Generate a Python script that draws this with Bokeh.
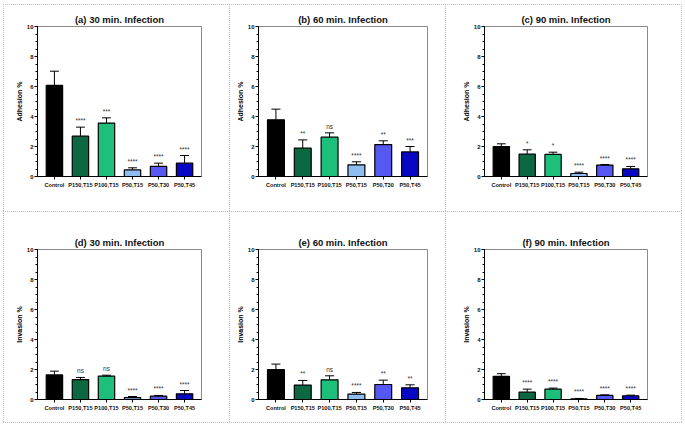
from bokeh.plotting import figure
from bokeh.layouts import gridplot
from bokeh.models import ColumnDataSource, FixedTicker, Range1d
from bokeh.core.properties import value
from bokeh.embed import file_html
from bokeh.resources import INLINE

categories = ["Control", "P150,T15", "P100,T15", "P50,T15", "P50,T30", "P50,T45"]
bar_colors = ["#000000", "#0b6840", "#1dbf7b", "#8fbdf2", "#5757f2", "#0707c4"]

# Adhesion % (mean, error)
adh30 = [6.07, 2.69, 3.56, 0.44, 0.67, 0.89]
adh30_err = [0.95, 0.60, 0.35, 0.14, 0.22, 0.51]
adh60 = [3.78, 1.89, 2.62, 0.78, 2.13, 1.64]
adh60_err = [0.71, 0.55, 0.29, 0.20, 0.25, 0.36]
adh90 = [2.00, 1.49, 1.47, 0.20, 0.76, 0.51]
adh90_err = [0.18, 0.29, 0.15, 0.09, 0.04, 0.16]

# Invasion % (mean, error)
inv30 = [1.64, 1.33, 1.56, 0.13, 0.22, 0.38]
inv30_err = [0.25, 0.14, 0.06, 0.07, 0.05, 0.22]
inv60 = [2.00, 0.96, 1.31, 0.36, 1.00, 0.78]
inv60_err = [0.36, 0.31, 0.27, 0.11, 0.29, 0.20]
inv90 = [1.54, 0.49, 0.69, 0.04, 0.27, 0.25]
inv90_err = [0.18, 0.20, 0.07, 0.03, 0.04, 0.04]

sig_a = ["", "****", "***", "****", "****", "****"]
sig_b = ["", "**", "ns", "****", "**", "***"]
sig_c = ["", "*", "*", "****", "****", "****"]
sig_d = ["", "ns", "ns", "****", "****", "****"]
sig_e = ["", "**", "ns", "****", "**", "**"]
sig_f = ["", "****", "****", "****", "****", "****"]

y_ticks = [0, 2, 4, 6, 8, 10]

FONT = "Liberation Sans"
DOT = "#bdbdbd"


def vline(x, y0, y1):
    return ("repeating-linear-gradient(to bottom, %s 0px, %s 1px, transparent 1px, transparent 2px)" % (DOT, DOT),
            "1px %dpx" % (y1 - y0), "%dpx %dpx" % (x, y0))


def hline(y, x0, x1):
    return ("repeating-linear-gradient(to right, %s 0px, %s 1px, transparent 1px, transparent 2px)" % (DOT, DOT),
            "%dpx 1px" % (x1 - x0), "%dpx %dpx" % (x0, y))


def css_lines(lines):
    return {
        "background-image": ", ".join(l[0] for l in lines),
        "background-size": ", ".join(l[1] for l in lines),
        "background-position": ", ".join(l[2] for l in lines),
        "background-repeat": "no-repeat",
        "background-color": "white",
    }


panels = [
    ("(a) 30 min. Infection", "Adhesion %", adh30, adh30_err, sig_a, 229, 211, (37, 26, 26, 35),
     [vline(3, 4, 211), hline(4, 3, 229)]),
    ("(b) 60 min. Infection", "Adhesion %", adh60, adh60_err, sig_b, 216, 211, (29, 18, 26, 35),
     [vline(0, 4, 211), hline(4, 0, 216)]),
    ("(c) 90 min. Infection", "Adhesion %", adh90, adh90_err, sig_c, 240, 211, (39, 38, 26, 35),
     [vline(0, 4, 211), vline(236, 4, 211), hline(4, 0, 237)]),
    ("(d) 30 min. Infection", "Invasion %", inv30, inv30_err, sig_d, 229, 216, (37, 28, 38, 28),
     [vline(3, 0, 211), hline(0, 3, 229), hline(211, 3, 229)]),
    ("(e) 60 min. Infection", "Invasion %", inv60, inv60_err, sig_e, 216, 216, (29, 18, 38, 28),
     [vline(0, 0, 211), hline(0, 0, 216), hline(211, 0, 216)]),
    ("(f) 90 min. Infection", "Invasion %", inv90, inv90_err, sig_f, 240, 216, (34, 38, 38, 28),
     [vline(0, 0, 211), vline(236, 0, 212), hline(0, 0, 237), hline(211, 0, 237)]),
]

figs = []
for title, ylab, vals, errs, sig, w, h, (bl, br, bt, bb), lines in panels:
    xs = list(range(len(categories)))
    hi = [v + e for v, e in zip(vals, errs)]
    src = ColumnDataSource(dict(
        x=xs, top=vals, hi=hi,
        xl=[x - 0.17 for x in xs], xr=[x + 0.17 for x in xs],
        barfill=bar_colors, sig=sig,
    ))
    p = figure(width=w, height=h, x_range=Range1d(-0.65, 5.65), y_range=Range1d(0, 10),
               output_backend="svg", toolbar_location=None,
               min_border_left=bl, min_border_right=br, min_border_top=bt, min_border_bottom=bb,
               styles=css_lines(lines))
    p.title.text = title
    p.title.align = "center"
    p.title.text_font = FONT
    p.title.text_font_size = "9.5px"
    p.title.text_font_style = "bold"
    p.title.text_color = "#111111"
    p.title.standoff = 3
    p.xgrid.visible = False
    p.ygrid.visible = False
    p.outline_line_color = "#8a8a8a"
    p.outline_line_width = 1
    p.background_fill_color = "white"
    p.border_fill_color = None

    p.xaxis.ticker = FixedTicker(ticks=xs)
    p.xaxis.major_label_overrides = {i: c for i, c in enumerate(categories)}
    p.yaxis.ticker = FixedTicker(ticks=y_ticks, minor_ticks=[i * 0.5 for i in range(21)])
    p.yaxis.axis_label = ylab
    for ax in (p.xaxis[0], p.yaxis[0]):
        ax.axis_line_color = "#000000"
        ax.axis_line_width = 1
        ax.major_tick_line_color = "#000000"
        ax.major_tick_in = 0
        ax.major_tick_out = 3
        ax.minor_tick_in = 0
        ax.minor_tick_out = 2
        ax.minor_tick_line_color = "#000000"
        ax.major_label_text_font = FONT
        ax.major_label_text_font_style = "bold"
        ax.major_label_text_color = "#111111"
        ax.axis_label_text_font = FONT
        ax.axis_label_text_font_size = "7px"
        ax.axis_label_text_font_style = "bold"
        ax.axis_label_text_color = "#000000"
    p.xaxis.major_label_standoff = 2
    p.yaxis.major_label_standoff = 1
    p.yaxis.axis_label_standoff = 1
    p.xaxis.major_label_text_font_size = "5.6px"
    p.yaxis.major_label_text_font_size = "6px"
    p.xaxis.minor_tick_line_color = None

    p.vbar(x="x", top="top", bottom=0, width=0.63, fill_color="barfill",
           line_color="#000000", line_width=1.2, source=src)
    p.segment(x0="x", y0="top", x1="x", y1="hi", line_color="#000000", line_width=1, source=src)
    p.segment(x0="xl", y0="hi", x1="xr", y1="hi", line_color="#000000", line_width=1, source=src)
    p.text(x="x", y="hi", text="sig", text_align="center", text_baseline="bottom",
           y_offset=-3, text_font_size="6.5px", text_color="#333333",
           text_font=value(FONT), source=src)
    figs.append(p)

grid = gridplot([figs[:3], figs[3:]], toolbar_location=None)

open("out.html", "w").write(file_html(grid, INLINE))
